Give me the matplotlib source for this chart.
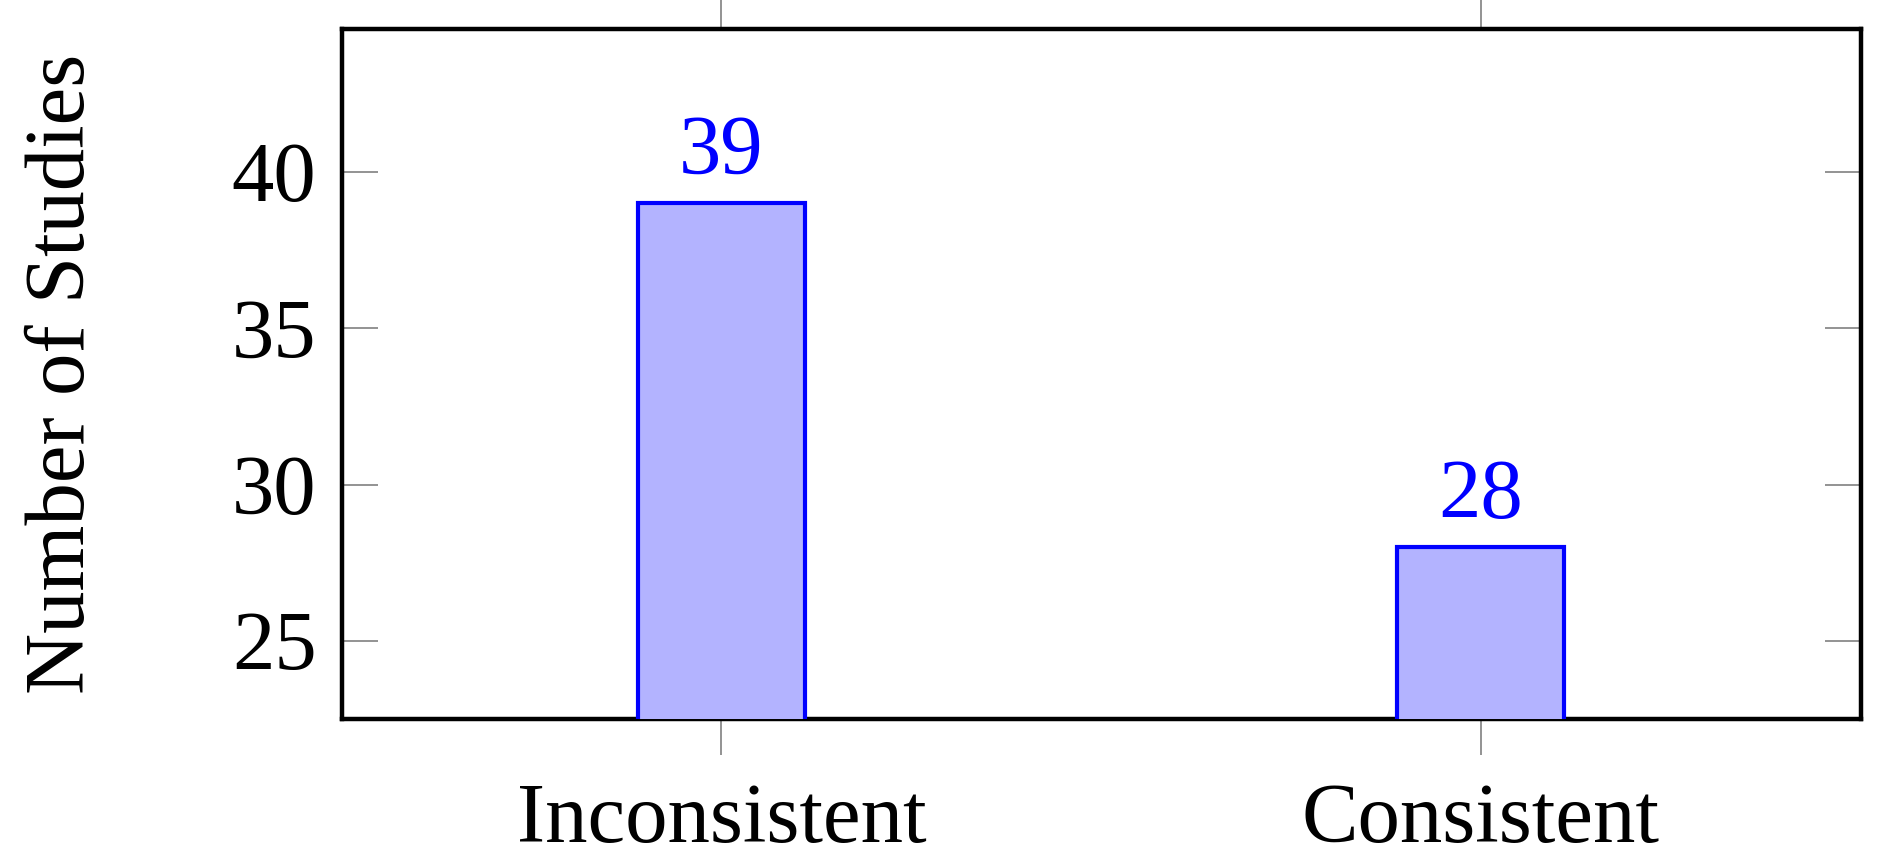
import matplotlib

matplotlib.use("Agg")
import matplotlib.pyplot as plt  # noqa: E402

CATEGORIES = ["Inconsistent", "Consistent"]
COUNTS = [39, 28]

BLUE = "#0000ff"
FILL = "#b3b3ff"
GRAY = "#808080"
FS = 61

plt.rcParams["font.family"] = ["Liberation Serif", "DejaVu Serif"]

fig = plt.figure(figsize=(18.86, 8.66), dpi=100)
ax = fig.add_axes([0.1811, 0.1697, 0.8055, 0.7968])

x = range(len(CATEGORIES))
bars = ax.bar(x, COUNTS, width=0.22, color=FILL, edgecolor=BLUE, linewidth=3.0, zorder=3)
ax.bar_label(bars, labels=[str(v) for v in COUNTS], padding=8, color=BLUE, fontsize=FS)

ax.set_xlim(-0.5, 1.5)
ax.set_ylim(22.5, 44.57)
ax.set_xticks(list(x))
ax.set_xticklabels(CATEGORIES)
ax.set_yticks([25, 30, 35, 40])

for s in ax.spines.values():
    s.set_linewidth(3.2)
    s.set_color("black")

ax.tick_params(axis="x", direction="out", length=26, width=1.2, color=GRAY,
               top=True, bottom=True, labelsize=FS, pad=20)
ax.tick_params(axis="y", direction="in", length=26, width=1.2, color=GRAY,
               left=True, right=True, labelsize=FS, pad=18)

ax.set_ylabel("Number of Studies", fontsize=FS)
ax.yaxis.set_label_coords(-0.158, 0.5)

fig.savefig("out.png", dpi=100)
plt.close(fig)
